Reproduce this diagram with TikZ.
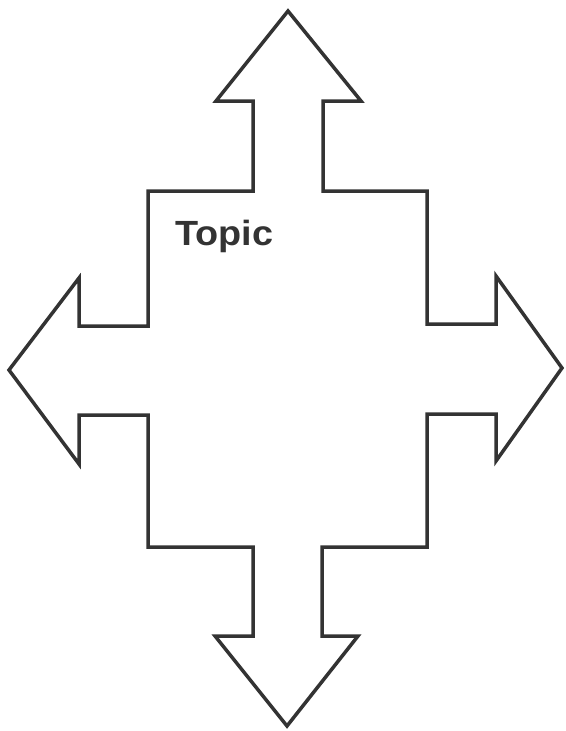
\documentclass[tikz,border=0pt]{standalone}
\usepackage{fontspec}
\setmainfont{Liberation Sans}
\definecolor{ink}{HTML}{333333}
\tikzset{
  outline/.style={draw=ink, line width=3.5pt, line join=miter, fill=white},
  label/.style={font=\fontsize{35}{40}\selectfont\bfseries, text=ink, inner sep=0pt, anchor=base west, xscale=1.08}
}
\begin{document}
\begin{tikzpicture}[x=1pt,y=-1pt]
\useasboundingbox (0,0) rectangle (565,731);
\draw[outline]
  (288,11) -- (361,101) -- (323,101) -- (323,191) -- (427,191) -- (427,324)
  -- (496,324) -- (496,276) -- (562,368) -- (496,461) -- (496,414)
  -- (427,414) -- (427,547) -- (322,547) -- (322,636) -- (358,636)
  -- (287,726) -- (215,636) -- (253,636) -- (253,547) -- (148,547)
  -- (148,415) -- (79,415) -- (79,464) -- (9,370) -- (79,278)
  -- (79,326) -- (148,326) -- (148,191) -- (253,191) -- (253,101)
  -- (216,101) -- cycle;
\node[label] (topic) at (175,245) {Topic};
\end{tikzpicture}
\end{document}
